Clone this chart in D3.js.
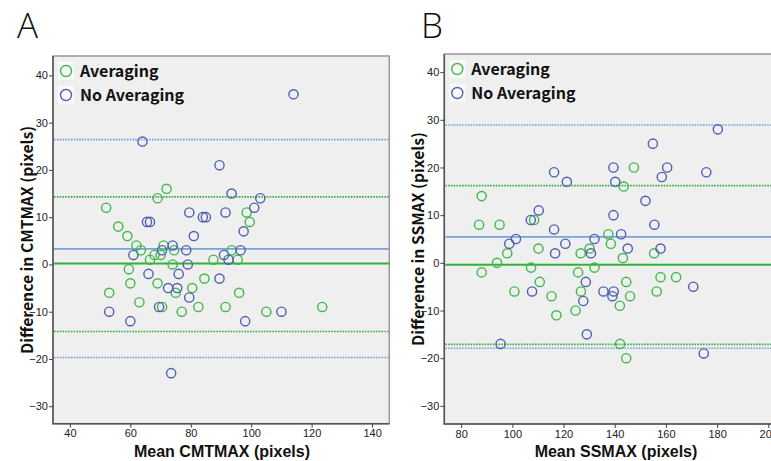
<!DOCTYPE html>
<html>
<head>
<meta charset="utf-8">
<script src="https://cdn.jsdelivr.net/npm/d3@7"></script>
<style>
  body { margin: 0; background: #fff; }
  svg { display: block; }
  .tick text { font-family: "Liberation Sans", Arial, sans-serif; font-size: 11px; fill: #222; }
  .tick line { stroke: #444; }
  .domain { display: none; }
</style>
</head>
<body>
<svg id="chart" width="771" height="461"></svg>
<script>
// Panel A: CMTMAX, [mean, difference]
const avgA = [
  [52, 12], [56, 8], [59, 6], [62, 4], [63.5, 3], [59.5, -1], [60, -4], [53, -6], [63, -8],
  [66.5, 1], [68, 2], [70, 2], [71, 4], [74.5, 3], [74, 0], [69, -4], [75, -6], [80.5, -5],
  [70.5, -9], [77, -10], [82.5, -9], [84.5, -3], [87.5, 1], [93.5, 3], [91.5, -9], [95.5, 1],
  [96, -6], [105, -10], [123.5, -9], [69, 14], [72, 16], [98.5, 11], [99.5, 9]
];
const noAvgA = [
  [64, 26], [65.5, 9], [66.5, 9], [79.5, 11], [84, 10], [85, 10], [89.5, 21], [91.5, 11],
  [93.5, 15], [101, 12], [103, 14], [97.5, 7], [114, 36], [61, 2], [53, -10], [60, -12],
  [66, -2], [70.5, 3], [74, 4], [78.5, 3], [79, 0], [76, -2], [72.5, -5], [75.5, -5],
  [79.5, -7], [69.5, -9], [81, 6], [89.5, -3], [91, 2], [92.5, 1], [96.5, 3], [98, -12],
  [110, -10], [73.5, -23]
];
// limits of agreement [lower, mean, upper]
const limitsAvgA = [-14.2, 0.2, 14.3];
const limitsNoAvgA = [-19.7, 3.3, 26.4];

// Panel B: SSMAX
const avgB = [
  [88, 14], [87, 8], [95, 8], [108.5, 9], [98, 2], [94, 0], [88, -2], [107.3, -1], [110.2, 3],
  [110.7, -4], [100.8, -6], [115.3, -7], [117.2, -11], [124.7, -10], [126.7, 2], [125.7, -2],
  [130.2, 3], [132.1, -1], [126.8, -6], [137.5, 6], [138.5, 4], [143.2, 1], [144.5, -4],
  [146, -7], [142, -9], [142.1, -17], [144.5, -20], [155.4, 2], [157.9, -3], [156.4, -6],
  [164, -3], [143.5, 16], [147.5, 20]
];
const noAvgB = [
  [107.2, 9], [110.3, 11], [116.3, 19], [121.3, 17], [116.3, 7], [139.5, 20], [140.2, 17],
  [154.9, 25], [152, 13], [139.5, 10], [155.5, 8], [158.4, 18], [160.5, 20], [175.8, 19],
  [180.3, 28], [98.8, 4], [101.4, 5], [116.7, 2], [120.7, 4], [107.7, -6], [95.4, -17],
  [130.7, 2], [132.1, 5], [128.7, -4], [127.7, -8], [129.1, -15], [142.5, 6], [145.1, 3],
  [135.6, -6], [139.6, -6], [139.1, -7], [157.9, 3], [170.7, -5], [174.8, -19]
];
const limitsAvgB = [-17.1, -0.4, 16.2];
const limitsNoAvgB = [-17.9, 5.45, 28.9];

const yTicks = [-30, -20, -10, 0, 10, 20, 30, 40];
const xTicksA = [40, 60, 80, 100, 120, 140];
const xTicksB = [80, 100, 120, 140, 160, 180, 200];
const seriesNames = ['Averaging', 'No Averaging'];

const green = '#3fb94a';
const blue = '#4f5fb3';
const greenLine = '#36b03c';
const blueLine = '#76a3dc';
const titleFont = '"Noto Sans CJK KR", "Noto Sans", sans-serif';

const svg = d3.select('#chart');

function drawPanel(p) {
  const g = svg.append('g');
  const x = d3.scaleLinear().domain(p.xDomain).range([p.left, p.right]);
  const y = d3.scaleLinear().domain(p.yDomain).range([p.bottom, p.top]);

  g.append('rect')
    .attr('x', p.left).attr('y', p.top)
    .attr('width', p.right - p.left).attr('height', p.bottom - p.top)
    .attr('fill', '#efefef')
    .attr('stroke', '#999').attr('stroke-width', 1.5);
  // darker left and bottom edges
  g.append('path')
    .attr('d', `M${p.left},${p.top}V${p.bottom}H${p.right}`)
    .attr('fill', 'none').attr('stroke', '#555').attr('stroke-width', 1.5);

  g.append('g')
    .attr('transform', `translate(${p.left},0)`)
    .call(d3.axisLeft(y).tickValues(yTicks).tickSize(4).tickPadding(1));
  g.append('g')
    .attr('transform', `translate(0,${p.bottom})`)
    .call(d3.axisBottom(x).tickValues(p.xTicks).tickSize(4).tickPadding(2));

  const hline = (v, color, dashed) => g.append('line')
    .attr('x1', p.left + 1).attr('x2', p.right)
    .attr('y1', y(v)).attr('y2', y(v))
    .attr('stroke', color).attr('stroke-width', dashed ? 1.6 : 1.8)
    .attr('stroke-dasharray', dashed ? '1.6,1.2' : null);

  hline(p.limitsNo[0], blueLine, true);
  hline(p.limitsNo[2], blueLine, true);
  hline(p.limitsAvg[0], greenLine, true);
  hline(p.limitsAvg[2], greenLine, true);
  hline(p.limitsNo[1], blueLine, false);
  hline(p.limitsAvg[1], greenLine, false);

  const dots = (data, color) => g.append('g')
    .selectAll('circle')
    .data(data)
    .enter()
    .append('circle')
    .attr('cx', d => x(d[0]))
    .attr('cy', d => y(d[1]))
    .attr('r', 4.6)
    .attr('fill', 'none')
    .attr('stroke', color)
    .attr('stroke-width', 1.4);

  dots(p.avg, green);
  dots(p.noAvg, blue);

  // legend
  [green, blue].forEach((c, i) => {
    const ly = p.top + 15 + i * 24;
    g.append('rect')
      .attr('x', p.left + 5).attr('y', ly - 9)
      .attr('width', 16).attr('height', 18)
      .attr('fill', '#fafafa');
    g.append('circle')
      .attr('cx', p.left + 13).attr('cy', ly).attr('r', 5.5)
      .attr('fill', 'none').attr('stroke', c).attr('stroke-width', 1.4);
    g.append('text')
      .attr('x', p.left + 27).attr('y', ly)
      .attr('dy', '0.36em')
      .style('font-family', titleFont).style('font-weight', 700).style('font-size', '16px')
      .attr('fill', '#111')
      .text(seriesNames[i]);
  });

  g.append('text')
    .attr('transform', `translate(${p.left - 26},${(p.top + p.bottom) / 2}) rotate(-90)`)
    .attr('text-anchor', 'middle')
    .attr('dy', '0.36em')
    .style('font-family', titleFont).style('font-weight', 700).style('font-size', '15.7px')
    .attr('fill', '#111')
    .text(p.yTitle);

  g.append('text')
    .attr('x', p.xTitleX).attr('y', 457)
    .attr('text-anchor', 'middle')
    .style('font-family', '"Liberation Sans", Arial, sans-serif').style('font-weight', 700).style('font-size', '16px')
    .attr('fill', '#111')
    .text(p.xTitle);

  g.append('text')
    .attr('x', p.letterX).attr('y', 38)
    .style('font-family', '"Open Sans", sans-serif').style('font-weight', 300).style('font-size', '35px')
    .attr('fill', '#111')
    .text(p.letter);
}

drawPanel({
  letter: 'A', letterX: 17,
  left: 53, right: 389.3, top: 56, bottom: 423.7,
  xDomain: [34.4, 145.7], yDomain: [-33.7, 44.1], xTicks: xTicksA,
  avg: avgA, noAvg: noAvgA, limitsAvg: limitsAvgA, limitsNo: limitsNoAvgA,
  yTitle: 'Difference in CMTMAX (pixels)', xTitle: 'Mean CMTMAX (pixels)', xTitleX: 222
});

drawPanel({
  letter: 'B', letterX: 421,
  left: 444.3, right: 790, top: 54, bottom: 424,
  xDomain: [73.4, 208.5], yDomain: [-33.8, 43.8], xTicks: xTicksB,
  avg: avgB, noAvg: noAvgB, limitsAvg: limitsAvgB, limitsNo: limitsNoAvgB,
  yTitle: 'Difference in SSMAX (pixels)', xTitle: 'Mean SSMAX (pixels)', xTitleX: 616
});
</script>
</body>
</html>
